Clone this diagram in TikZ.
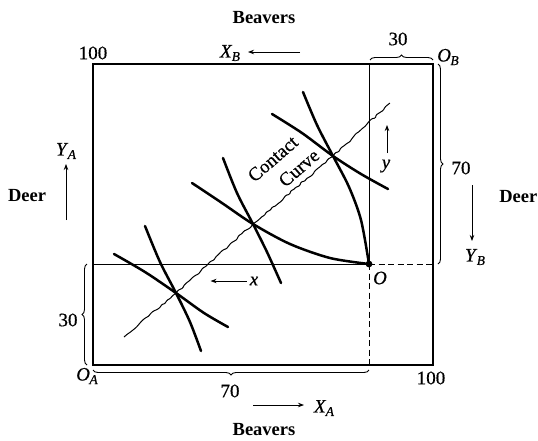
\documentclass[tikz,border=0pt]{standalone}
\usepackage{fontspec}
\setmainfont{Liberation Serif}[UprightFeatures={FakeBold=0.5},ItalicFeatures={FakeBold=0.5}]
\usetikzlibrary{arrows.meta,decorations.pathreplacing,decorations.pathmorphing}
\newcommand\lbsub[2]{\textit{#1}\kern-0.5pt\raisebox{-0.4ex}{\fontsize{13.5}{14}\selectfont\textit{#2}}}
\begin{document}
\begin{tikzpicture}[x=1pt,y=-1pt,
  lbl/.style={inner sep=0pt,font=\fontsize{19}{21}\selectfont},
  boldlbl/.style={inner sep=0pt,font=\fontsize{18.5}{21}\selectfont\bfseries},
  boxline/.style={line width=1.7pt},
  thinline/.style={line width=0.8pt},
  dashline/.style={line width=0.9pt,dash pattern=on 6pt off 3.5pt},
  icurve/.style={line width=2.5pt,line cap=round},
  brc/.style={decorate,decoration={brace,amplitude=5pt},line width=0.9pt},
  arr/.style={-{Stealth[length=6pt,width=4.5pt]},line width=0.8pt},
]
\useasboundingbox (0,0) rectangle (538,440);
\fill[white] (0,0) rectangle (538,440);
% corners
\coordinate (OA) at (93,365);
\coordinate (TL) at (93,64);
\coordinate (OB) at (433,64);
\coordinate (BR) at (433,365);
\coordinate (O) at (369,264);
\coordinate (Otop) at (369,64);
\coordinate (Obot) at (369,365);
\coordinate (Oleft) at (93,264);
\coordinate (Oright) at (433,264);
% box
\draw[boxline] (OA) -- (TL) -- (OB) -- (BR) -- cycle;
\draw[thinline] (Otop) -- (O);
\draw[thinline] (Oleft) -- (O);
\draw[dashline] (O) -- (Obot);
\draw[dashline] (O) -- (Oright);
% contact curve
\pgfmathsetseed{11}
\draw[line width=1pt,decorate,decoration={random steps,segment length=3.5pt,amplitude=1.1pt},rounded corners=0.9pt]
  (124,337) -- (176,293) -- (253,224) -- (333,156) -- (390,103);
% indifference curves
\draw[icurve] plot[smooth] coordinates {(114,254) (145,272) (176,293) (204,313) (228,327)};
\draw[icurve] plot[smooth] coordinates {(145,226) (160,262) (176,293) (190,322) (201,351)};
\draw[icurve] plot[smooth] coordinates {(192,183) (222,203) (253,224) (290,244) (330,258) (369,264)};
\draw[icurve] plot[smooth] coordinates {(223,158) (237,193) (253,224) (267,252) (281,283)};
\draw[icurve] plot[smooth] coordinates {(272,114) (302,133) (333,156) (361,174) (388,189)};
\draw[icurve] plot[smooth] coordinates {(303,92) (317,125) (333,156) (349,187) (361,220) (369,264)};
\fill (O) circle (3.4pt);
% braces
\draw[brc] (370,60) -- (433,60);
\draw[brc] (438,64) -- (438,264);
\draw[brc] (87,365) -- (87,264);
\draw[brc] (369,370) -- (93,370);
% labels
\node[boldlbl] (beavT) at (264,18) {Beavers};
\node[boldlbl] (beavB) at (264,430) {Beavers};
\node[boldlbl] (deerL) at (27,196) {Deer};
\node[boldlbl,anchor=east] (deerR) at (537.5,197) {Deer};
\node[lbl] (n100t) at (93,53) {100};
\node[lbl] (n100b) at (431,378) {100};
\node[lbl] (n30t) at (398,39) {30};
\node[lbl] (n70r) at (461,168) {70};
\node[lbl] (n30l) at (68,320) {30};
\node[lbl] (n70b) at (230,391) {70};
\node[lbl] (XB) at (230,53) {\lbsub{X}{B}};
\node[lbl] (XA) at (324,408) {\lbsub{X}{A}};
\node[lbl] (YA) at (66,151) {\lbsub{Y}{A}};
\node[lbl] (YB) at (475,257) {\lbsub{Y}{B}};
\node[lbl] (OBl) at (448,57) {\lbsub{O}{B}};
\node[lbl] (OAl) at (87,376) {\lbsub{O}{A}};
\node[lbl] (Ol) at (380,278) {\textit{O}};
\node[lbl] (xl) at (254,281) {\textit{x}};
\node[lbl] (yl) at (386,166) {\textit{y}};
\node[lbl,rotate=41,align=left,font=\fontsize{19}{24}\selectfont] (cc) at (283.5,165.5) {Contact\\\hspace*{20pt}Curve};
% arrows
\coordinate (xbS) at (300,52); \coordinate (xbE) at (248,52);
\draw[arr] (xbS) -- (xbE);
\coordinate (xaS) at (253,405); \coordinate (xaE) at (304,405);
\draw[arr] (xaS) -- (xaE);
\coordinate (yaS) at (66,220); \coordinate (yaE) at (66,164);
\draw[arr] (yaS) -- (yaE);
\coordinate (ybS) at (472,185); \coordinate (ybE) at (472,241);
\draw[arr] (ybS) -- (ybE);
\draw[arr] (xl.west) ++(-3,0) coordinate (xS) -- ++(-36,0) coordinate (xE);
\coordinate (ySt) at (387,153); \coordinate (yEn) at (387,125);
\draw[arr] (ySt) -- (yEn);
\end{tikzpicture}
\end{document}
